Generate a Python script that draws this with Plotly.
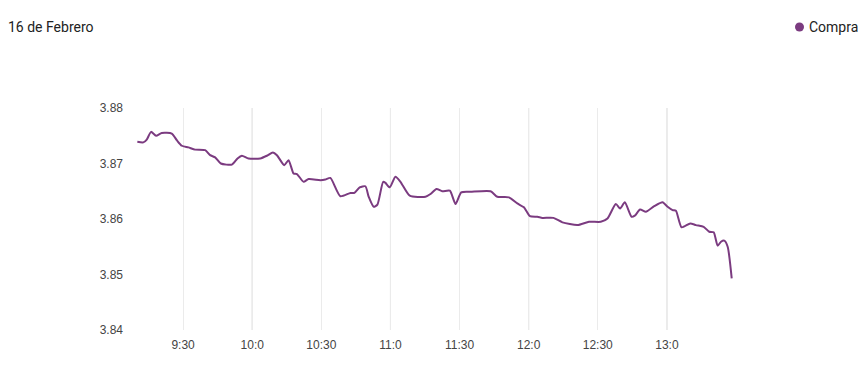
import pandas as pd
import plotly.graph_objects as go

title_text = "16 de Febrero"
series_name = "Compra"
day = "2024-02-16"

times = ["09:10:08", "09:12:44", "09:14:13", "09:16:05", "09:18:16", "09:20:44", "09:25:05", "09:27:16",
         "09:29:26", "09:32:18", "09:35:13", "09:39:34", "09:41:44", "09:43:55", "09:46:23", "09:51:10",
         "09:53:37", "09:55:31", "09:58:23", "10:03:29", "10:06:23", "10:09:00", "10:10:44", "10:13:55",
         "10:15:47", "10:17:57", "10:19:26", "10:22:18", "10:24:29", "10:29:34", "10:31:44", "10:33:55",
         "10:38:16", "10:42:37", "10:44:21", "10:46:39", "10:49:08", "10:50:34", "10:52:44", "10:54:21",
         "10:56:50", "10:57:50", "10:59:42", "11:02:10", "11:04:21", "11:08:23", "11:15:13", "11:17:23",
         "11:20:00", "11:22:29", "11:25:47", "11:28:16", "11:30:44", "11:34:47", "11:43:29", "11:46:23",
         "11:51:26", "11:55:05", "11:57:57", "12:00:34", "12:03:47", "12:05:57", "12:10:44", "12:14:39",
         "12:21:10", "12:26:13", "12:31:18", "12:34:13", "12:37:50", "12:39:42", "12:41:44", "12:44:39",
         "12:46:05", "12:48:23", "12:50:52", "12:54:29", "12:58:08", "13:00:18", "13:02:29", "13:03:55",
         "13:06:23", "13:10:08", "13:12:37", "13:15:58", "13:18:23", "13:20:18", "13:22:02", "13:23:29",
         "13:24:55", "13:26:23", "13:28:08"]

compra = [3.8739, 3.8738, 3.8743, 3.8757, 3.8750, 3.8755, 3.8754, 3.8742,
          3.8732, 3.8729, 3.8725, 3.8724, 3.8715, 3.8711, 3.8700, 3.8698,
          3.8709, 3.8714, 3.8709, 3.8709, 3.8714, 3.8720, 3.8715, 3.8697,
          3.8706, 3.8682, 3.8681, 3.8667, 3.8672, 3.8670, 3.8671, 3.8674,
          3.8641, 3.8647, 3.8647, 3.8657, 3.8659, 3.8640, 3.8622, 3.8626,
          3.8667, 3.8665, 3.8657, 3.8676, 3.8667, 3.8642, 3.8640, 3.8645,
          3.8654, 3.8650, 3.8651, 3.8627, 3.8648, 3.8649, 3.8650, 3.8640,
          3.8639, 3.8628, 3.8621, 3.8605, 3.8604, 3.8602, 3.8602, 3.8594,
          3.8589, 3.8595, 3.8595, 3.8601, 3.8627, 3.8619, 3.8630, 3.8604,
          3.8606, 3.8617, 3.8613, 3.8623, 3.8630, 3.8622, 3.8616, 3.8615,
          3.8585, 3.8592, 3.8589, 3.8586, 3.8577, 3.8576, 3.8552, 3.8559,
          3.8561, 3.8550, 3.8493]

tick_times = ["09:30", "10:00", "10:30", "11:00", "11:30", "12:00", "12:30", "13:00"]
tick_labels = ["9:30", "10:0", "10:30", "11:0", "11:30", "12:0", "12:30", "13:0"]
hour_times = ["10:00", "11:00", "12:00", "13:00"]
y_ticks = [3.84, 3.85, 3.86, 3.87, 3.88]
x_range = ["09:06:05", "13:31:44"]

x = pd.to_datetime([f"{day} {t}" for t in times])
tickvals = pd.to_datetime([f"{day} {t}" for t in tick_times])

purple = "#7b3b80"

# page has an 8px body margin; figure sized to fit the 866x376 window
W, H = 858, 368
L, R, T, B = 120, 126, 100, 46
plot_w = W - L - R
plot_h = H - T - B

fig = go.Figure()
fig.add_trace(go.Scatter(x=x, y=compra, mode="lines",
                         line=dict(color=purple, width=2, shape="spline", smoothing=0.6),
                         showlegend=False, name=series_name))

for h in hour_times:
    fig.add_vline(x=pd.Timestamp(f"{day} {h}"), line=dict(color="#cccccc", width=1), layer="below")

# legend: circle symbol + label
leg_y = 1 + (T - 19) / plot_h
fig.add_shape(type="circle", xref="paper", yref="paper", xsizemode="pixel", ysizemode="pixel",
              xanchor=(791.5 - L) / plot_w, yanchor=leg_y, x0=-4.5, x1=4.5, y0=-4.5, y1=4.5,
              fillcolor=purple, line=dict(width=0))
fig.add_annotation(text=series_name, xref="paper", yref="paper", x=(799 - L) / plot_w, y=leg_y,
                   xanchor="left", yanchor="middle", showarrow=False,
                   font=dict(family="Roboto", size=14, color="#222222"))

fig.update_layout(
    width=W, height=H,
    margin=dict(l=L, r=R, t=T, b=B),
    paper_bgcolor="white", plot_bgcolor="white",
    showlegend=False,
    title=dict(text=title_text, x=0, xanchor="left", y=1 - 19 / H, yanchor="middle", pad=dict(l=0),
               font=dict(family="Roboto", size=14, color="#222222")),
    xaxis=dict(range=[pd.Timestamp(f"{day} {x_range[0]}"), pd.Timestamp(f"{day} {x_range[1]}")],
               tickvals=tickvals, ticktext=tick_labels, showgrid=True, gridcolor="#ebebeb", gridwidth=1,
               showline=False, zeroline=False, ticks="", ticklabelstandoff=6,
               tickfont=dict(family="Arial, Liberation Sans", size=12, color="#444444")),
    yaxis=dict(range=[3.84, 3.88], tickvals=y_ticks, tickformat=".2f", showgrid=False, zeroline=False,
               showline=False, ticks="", ticklabelstandoff=4,
               tickfont=dict(family="Arial, Liberation Sans", size=12, color="#444444")),
)

fig.write_html("out.html")
